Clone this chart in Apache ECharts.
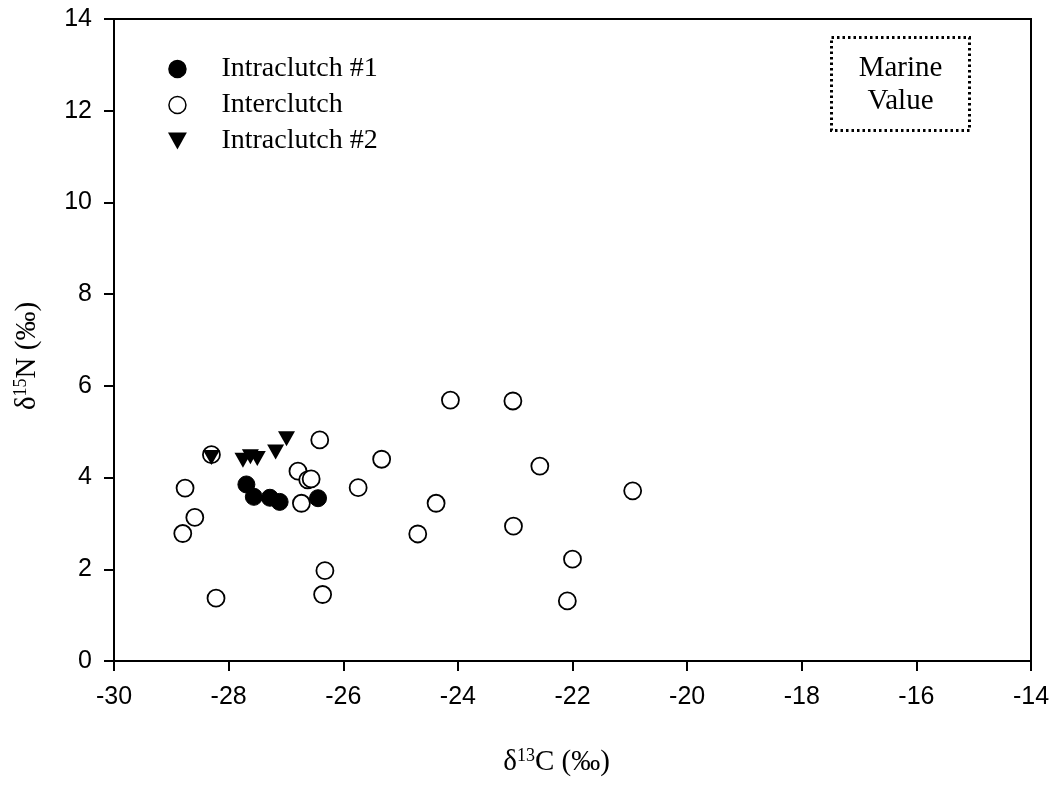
<!DOCTYPE html>
<html>
<head>
<meta charset="utf-8">
<script src="https://cdn.jsdelivr.net/npm/echarts@6/dist/echarts.min.js"></script>
<style>
  html, body { margin: 0; padding: 0; background: #fff; }
  #chart { width: 1055px; height: 789px; }
</style>
</head>
<body>
<div id="chart"></div>
<script>
// 数据 (δ13C, δ15N)
var intraclutch1 = [[-27.69, 3.85], [-27.56, 3.58], [-27.28, 3.56], [-27.11, 3.47], [-26.44, 3.55]];
var intraclutch2 = [[-28.30, 4.48], [-27.75, 4.42], [-27.62, 4.50], [-27.50, 4.46], [-27.18, 4.60], [-26.99, 4.89]];
var interclutch = [
  [-28.30, 4.50], [-26.41, 4.82], [-26.79, 4.14], [-26.62, 3.95], [-26.56, 3.97],
  [-26.73, 3.44], [-25.74, 3.78], [-28.76, 3.77], [-28.59, 3.13], [-28.80, 2.78],
  [-26.32, 1.97], [-26.36, 1.45], [-28.22, 1.37], [-24.13, 5.69], [-23.04, 5.67],
  [-25.33, 4.40], [-22.57, 4.25], [-20.95, 3.71], [-24.38, 3.44], [-24.70, 2.77],
  [-23.03, 2.94], [-22.00, 2.22], [-22.09, 1.31]
];
var seriesNames = ['Intraclutch #1', 'Interclutch', 'Intraclutch #2'];

var serif = '"Liberation Serif", "DejaVu Serif", serif';
var sans = '"Liberation Sans", Arial, sans-serif';

var myChart = echarts.init(document.getElementById('chart'));

var option = {
  backgroundColor: '#fff',
  animation: false,
  grid: {
    left: 114,
    right: 24,
    top: 19,
    bottom: 128,
    show: true,
    borderColor: '#000',
    borderWidth: 2
  },
  legend: {
    orient: 'vertical',
    left: 163,
    top: 50,
    itemGap: 8,
    itemWidth: 20,
    itemHeight: 17,
    textStyle: {
      fontFamily: serif,
      fontSize: 28,
      color: '#000',
      padding: [0, 0, 0, 29]
    },
    data: [
      { name: seriesNames[0], icon: 'circle', itemStyle: { color: '#000', borderColor: '#000', borderWidth: 1.5 } },
      { name: seriesNames[1], icon: 'circle', itemStyle: { color: '#fff', borderColor: '#000', borderWidth: 1.5 } },
      { name: seriesNames[2], icon: 'path://M0,0 L10,0 L5,9 Z', itemStyle: { color: '#000', borderWidth: 0 } }
    ]
  },
  xAxis: {
    type: 'value',
    min: -30,
    max: -14,
    interval: 2,
    name: '{d|δ}{s|13}{d|C (‰)}',
    nameLocation: 'middle',
    nameGap: 86,
    nameTextStyle: {
      padding: [0, 32, 0, 0],
      rich: {
        d: { fontFamily: serif, fontSize: 29, color: '#000' },
        s: { fontFamily: serif, fontSize: 18, color: '#000', verticalAlign: 'top', padding: [0, 0, 12, 0] }
      }
    },
    axisLine: { lineStyle: { color: '#000', width: 2 } },
    axisTick: { show: true, length: 10, lineStyle: { color: '#000', width: 2 } },
    axisLabel: { fontFamily: sans, fontSize: 25, color: '#000', margin: 24 },
    splitLine: { show: false }
  },
  yAxis: {
    type: 'value',
    min: 0,
    max: 14,
    interval: 2,
    name: '{d|δ}{s|15}{d|N (‰)}',
    nameLocation: 'middle',
    nameRotate: 90,
    nameGap: 72,
    nameTextStyle: {
      padding: [0, 32, 0, 0],
      rich: {
        d: { fontFamily: serif, fontSize: 29, color: '#000' },
        s: { fontFamily: serif, fontSize: 18, color: '#000', verticalAlign: 'top', padding: [0, 0, 12, 0] }
      }
    },
    axisLine: { lineStyle: { color: '#000', width: 2 } },
    axisTick: { show: true, length: 10, lineStyle: { color: '#000', width: 2 } },
    axisLabel: { fontFamily: sans, fontSize: 25, color: '#000', margin: 22 },
    splitLine: { show: false }
  },
  graphic: [{
    type: 'group',
    left: 830,
    top: 36,
    children: [{
      type: 'rect',
      shape: { x: 0, y: 0, width: 138, height: 93 },
      style: { fill: '#fff', stroke: '#000', lineWidth: 3, lineDash: [2.5, 3] }
    }, {
      type: 'text',
      style: {
        x: 69, y: 47,
        text: 'Marine\nValue',
        align: 'center',
        verticalAlign: 'middle',
        fontFamily: serif,
        fontSize: 29,
        lineHeight: 33,
        fill: '#000'
      }
    }]
  }],
  series: [{
    name: seriesNames[1],
    type: 'scatter',
    symbol: 'circle',
    symbolSize: 17,
    itemStyle: { color: '#fff', borderColor: '#000', borderWidth: 1.8, opacity: 1 },
    data: interclutch,
    z: 2
  }, {
    name: seriesNames[0],
    type: 'scatter',
    symbol: 'circle',
    symbolSize: 17,
    itemStyle: { color: '#000', borderColor: '#000', borderWidth: 1, opacity: 1 },
    data: intraclutch1,
    z: 3
  }, {
    name: seriesNames[2],
    type: 'scatter',
    symbol: 'path://M0,0 L10,0 L5,9 Z',
    symbolSize: [17, 15],
    symbolOffset: [0, 2],
    itemStyle: { color: '#000', opacity: 1 },
    data: intraclutch2,
    z: 4
  }]
};

myChart.setOption(option);
window.addEventListener("resize", function () {
  myChart.resize();
});
</script>
</body>
</html>
